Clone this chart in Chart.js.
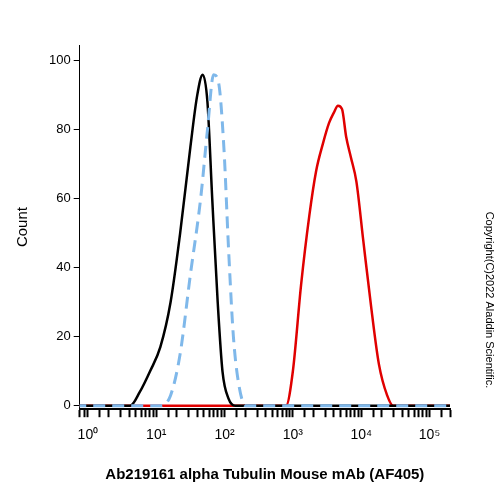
<!DOCTYPE html><html><head><script src="https://cdn.jsdelivr.net/npm/chart.js@4"></script>
<style>body{margin:0;background:#fff}</style></head><body><canvas id="c" width="500" height="500"></canvas>
<script>
const blackExp=[-0.2,0.62,0.76,0.91,1.06,1.21,1.35,1.5,1.6,1.68,1.75,1.82,1.9,1.97,2.06,2.16,5.4];
const blackY=[0,0,4,10,17,30,50,75,90,96,88,60,30,10,2,0,0];
const blueExp=[-0.2,1.06,1.21,1.35,1.5,1.65,1.75,1.84,1.91,1.99,2.06,2.13,2.21,2.31,5.4];
const blueY=[0,0,3,15,38,60,80,96,94,75,45,20,6,0,0];
const redExp=[-0.2,2.9,3.0,3.12,3.24,3.34,3.44,3.53,3.6,3.66,3.72,3.78,3.85,3.93,4.03,4.15,4.26,4.38,4.47,5.4];
const redY=[0,0,10,35,55,68,76,82,85,87,86,78,72,65,48,28,12,3,0,0];
const yTicks=[0,20,40,60,80,100];
const sup=['⁰','¹','²','³','⁴','⁵'];
const pts=(e,y)=>e.map((v,i)=>({x:Math.pow(10,v),y:y[i]}));
const copy={id:'copy',afterDraw(ch){const c=ch.ctx;c.save();c.translate(486,300);c.rotate(Math.PI/2);c.font='11px Arial';c.fillStyle='#000';c.textAlign='center';c.fillText('Copyright(C)2022 Aladdin Scientific.',0,0);c.restore();}};
new Chart(document.getElementById('c'),{type:'line',
data:{datasets:[
{data:pts(blueExp,blueY),borderColor:'#7fb8ea',borderWidth:3,borderDash:[12,7],pointRadius:0,cubicInterpolationMode:'monotone'},
{data:pts(blackExp,blackY),borderColor:'#000',borderWidth:2.5,pointRadius:0,cubicInterpolationMode:'monotone'},
{data:pts(redExp,redY),borderColor:'#e00000',borderWidth:2.5,pointRadius:0,cubicInterpolationMode:'monotone'}]},
options:{responsive:false,animation:false,devicePixelRatio:1,layout:{padding:{left:10,right:50,top:45,bottom:12}},
plugins:{legend:{display:false},tooltip:{enabled:false}},
scales:{x:{type:'logarithmic',min:Math.pow(10,-0.12),max:Math.pow(10,5.3),
grid:{display:true,drawOnChartArea:false,color:'#000',tickLength:8,tickWidth:2},border:{color:'#000',width:2},
ticks:{color:'#000',font:{size:14,family:'Arial'},autoSkip:false,maxRotation:0,padding:10,
callback:(v)=>{const l=Math.log10(v);return Math.abs(l-Math.round(l))<1e-6?'10'+sup[Math.round(l)]:'';}},
title:{display:true,text:'Ab219161 alpha Tubulin Mouse mAb (AF405)',font:{size:15,weight:'bold',family:'Arial'},color:'#000',padding:{top:12}}},
y:{min:-1,max:104.6,afterBuildTicks:(a)=>{a.ticks=yTicks.map(v=>({value:v}));},
grid:{display:true,drawOnChartArea:false,color:'#000',tickLength:6,tickWidth:1},border:{color:'#000',width:1},
ticks:{color:'#000',font:{size:13,family:'Arial'}},
title:{display:true,text:'Count',font:{size:15,family:'Arial'},color:'#000',padding:{bottom:14}}}}}
,plugins:[copy]});
</script></body></html>
